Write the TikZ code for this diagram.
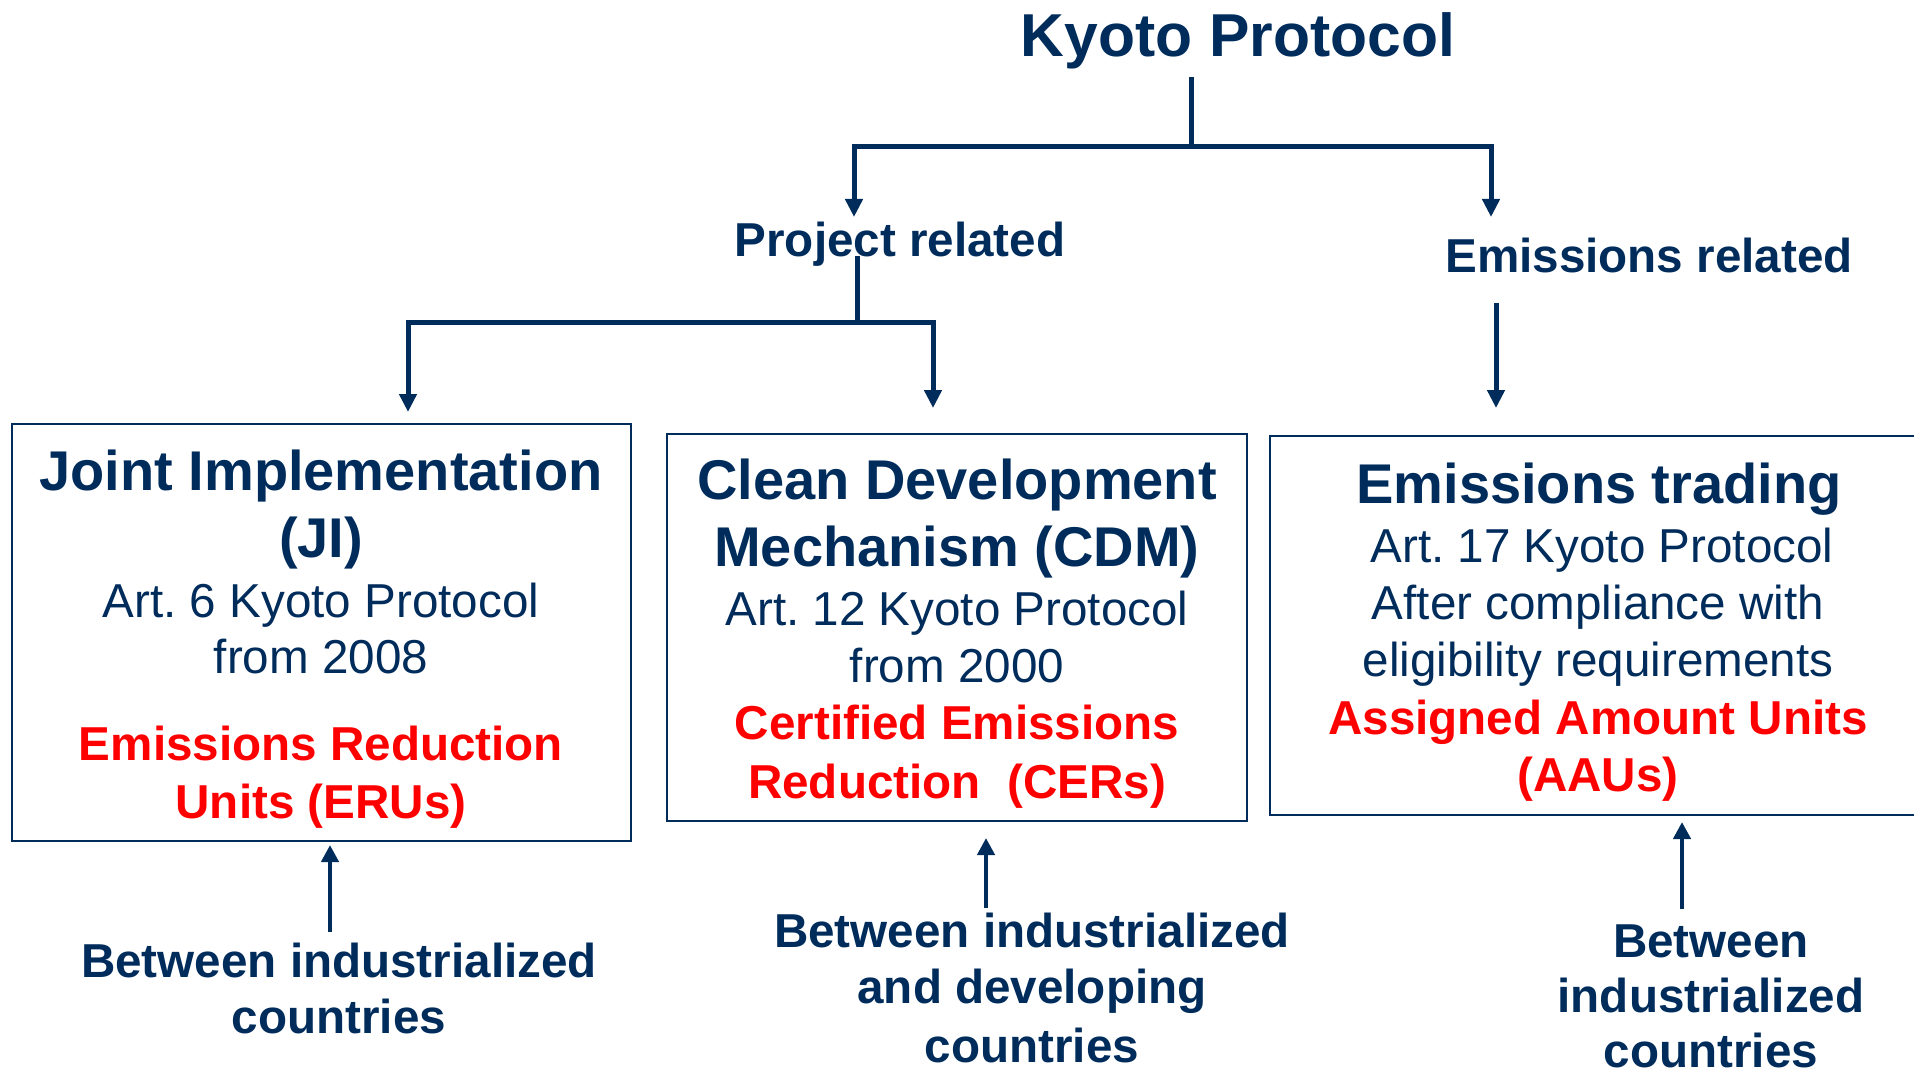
\documentclass[tikz,border=0pt]{standalone}
\usepackage{fontspec}
\setmainfont{Liberation Sans}
\usetikzlibrary{arrows.meta}
\definecolor{navy}{RGB}{0,44,92}
\definecolor{kred}{RGB}{255,0,0}
\frenchspacing
\begin{document}
\begin{tikzpicture}[x=0.5pt,y=-0.5pt,
  conn/.style={draw=navy, line width=2.5pt, line join=miter},
  arr/.style={conn, -{Triangle[width=8.5pt,length=9pt]}},
  uparr/.style={draw=navy, line width=2.2pt, -{Triangle[width=8.5pt,length=8.5pt]}},
  box/.style={draw=navy, line width=1.3pt, inner sep=0pt},
  txt/.style={anchor=base, inner sep=0pt, text=navy},
  ttl/.style={txt, font=\bfseries\fontsize{30.3}{36}\selectfont},
  hd/.style={txt, font=\bfseries\fontsize{28}{33}\selectfont},
  rg/.style={txt, font=\fontsize{23.8}{28}\selectfont},
  rd/.style={txt, text=kred, font=\bfseries\fontsize{23.8}{28}\selectfont},
  lb/.style={txt, font=\bfseries\fontsize{23.8}{28}\selectfont},
]
\useasboundingbox (0,0) rectangle (1914,1080);
\clip (0,0) rectangle (1914,1080);

% title and branch labels
\node[ttl] (kp) at (1238,57) {Kyoto Protocol};
\node[lb] (pr) at (900,257) {Project related};
\node[lb] (er) at (1649,273) {Emissions related};

% boxes
\node[box, minimum width=309.5pt, minimum height=208.5pt] (ji) at (321.5,632.5) {};
\node[box, minimum width=290pt, minimum height=193.5pt] (cdm) at (957,627.5) {};
\node[box, minimum width=330pt, minimum height=189.5pt] (et) at (1600,625.5) {};

% JI text
\node[hd] (ji1) at (321,490.5) {Joint Implementation};
\node[hd] (ji2) at (321,557) {(JI)};
\node[rg] (ji3) at (321,617) {Art. 6 Kyoto Protocol};
\node[rg] (ji4) at (321,673) {from 2008};
\node[rd] (ji5) at (321,760) {Emissions Reduction};
\node[rd] (ji6) at (321,818) {Units (ERUs)};

% CDM text
\node[hd] (cd1) at (957,499) {Clean Development};
\node[hd] (cd2) at (957,566) {Mechanism (CDM)};
\node[rg] (cd3) at (957,625) {Art. 12 Kyoto Protocol};
\node[rg] (cd4) at (957,682) {from 2000};
\node[rd] (cd5) at (957,739) {Certified Emissions};
\node[rd] (cd6) at (957,798) {Reduction~ (CERs)};

% ET text
\node[hd] (et1) at (1599,503) {Emissions trading};
\node[rg] (et2) at (1602,562) {Art. 17 Kyoto Protocol};
\node[rg] (et3) at (1598,619) {After compliance with};
\node[rg] (et4) at (1598,676) {eligibility requirements};
\node[rd] (et5) at (1598,734) {Assigned Amount Units};
\node[rd] (et6) at (1598,791) {(AAUs)};

% bottom labels
\node[lb] (b1a) at (339,977) {Between industrialized};
\node[lb] (b1b) at (339,1033) {countries};
\node[lb] (b2a) at (1032,947) {Between industrialized};
\node[lb] (b2b) at (1032,1003) {and developing};
\node[lb] (b2c) at (1032,1062) {countries};
\node[lb] (b3a) at (1711,957) {Between};
\node[lb] (b3b) at (1711,1012) {industrialized};
\node[lb] (b3c) at (1711,1067) {countries};

% connector points
\coordinate (kpb) at (1191,77);
\coordinate (kpj) at (1191,147);
\coordinate (pra) at (854,217);
\coordinate (era) at (1491,217);
\coordinate (prb) at (857,256);
\coordinate (prj) at (857,323);
\coordinate (jia) at (408,412);
\coordinate (cda) at (933,408);
\coordinate (erb) at (1496,303);
\coordinate (eta) at (1496,408);
\coordinate (jiu) at (330,932);
\coordinate (jit) at (330,845);
\coordinate (cdu) at (986,908);
\coordinate (cdt) at (986,838);
\coordinate (etu) at (1682,909);
\coordinate (ett) at (1682,822);

% connectors
\draw[conn] (kpb) -- (kpj);
\draw[arr] (kpj) -| (pra);
\draw[arr] (kpj) -| (era);
\draw[conn] (prb) -- (prj);
\draw[arr] (prj) -| (jia);
\draw[arr] (prj) -| (cda);
\draw[arr] (erb) -- (eta);
\draw[uparr] (jiu) -- (jit);
\draw[uparr] (cdu) -- (cdt);
\draw[uparr] (etu) -- (ett);
\end{tikzpicture}
\end{document}
